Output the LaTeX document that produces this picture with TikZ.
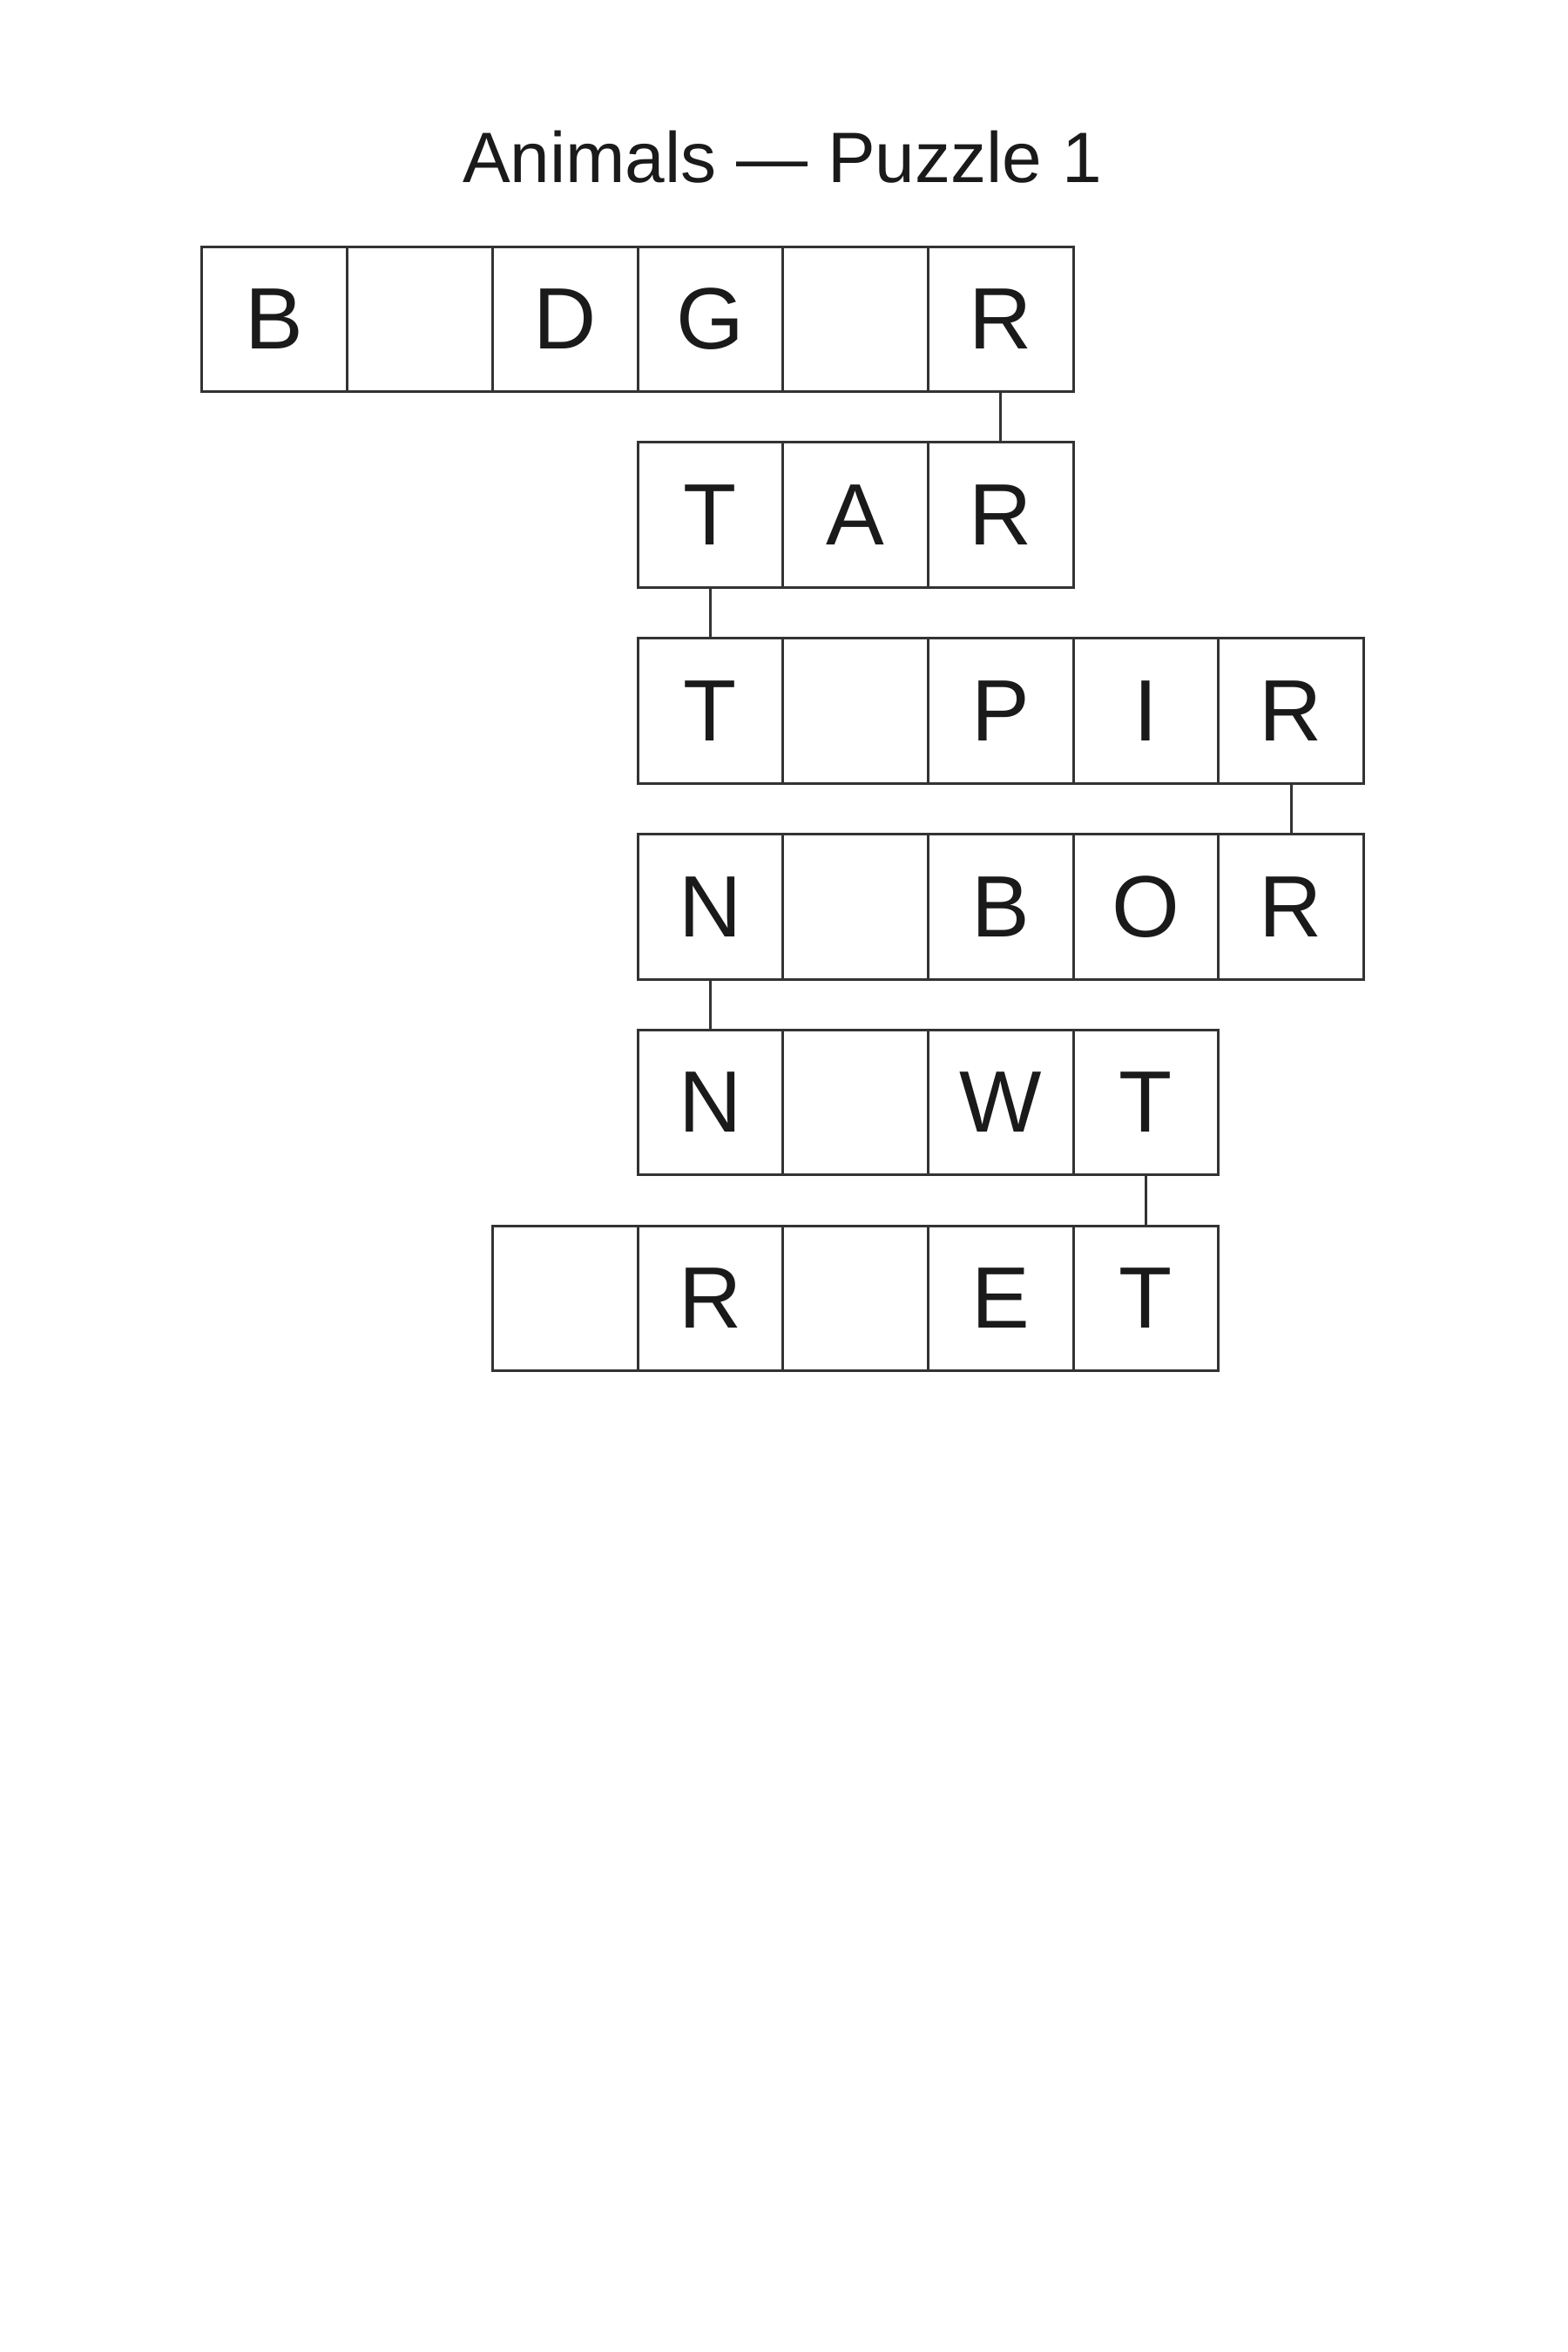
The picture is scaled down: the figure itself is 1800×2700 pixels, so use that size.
\documentclass[tikz,border=0pt]{standalone}
\usepackage{fontspec}
\setmainfont{Liberation Sans}
\definecolor{inkgray}{HTML}{1A1A1A}
\definecolor{linegray}{HTML}{333333}
\def\cellsize{166.67}
\def\stride{224.8}
\def\leftedge{232}
\def\topedge{283}
\tikzset{
  cellbox/.style={draw=linegray,line width=0.75pt,minimum size=41.67pt,inner sep=0pt,outer sep=0pt,text=inkgray,font=\fontsize{25}{25}\selectfont},
  link/.style={draw=linegray,line width=0.75pt},
  title/.style={text=inkgray,inner sep=0pt,font=\fontsize{20.5}{20.5}\selectfont}
}

\begin{document}
\begin{tikzpicture}[x=0.25pt,y=-0.25pt]
\fill[white] (0,0) rectangle (1800,2700);
\useasboundingbox (0,0) rectangle (1800,2700);
\node[title,anchor=base] (title) at (898,209) {Animals — Puzzle 1};
\foreach \r/\start/\letters in {0/0/{B, ,D,G, ,R},1/3/{T,A,R},2/3/{T, ,P,I,R},3/3/{N, ,B,O,R},4/3/{N, ,W,T},5/2/{ ,R, ,E,T}} {
  \foreach \l [count=\k from \start] in \letters {
    \node[cellbox] (r\r c\k) at (\leftedge+\k*\cellsize+0.5*\cellsize,\topedge+\r*\stride+0.5*\cellsize) {\l};
  }
}
\draw[link] (r0c5.south) -- (r1c5.north);
\draw[link] (r1c3.south) -- (r2c3.north);
\draw[link] (r2c7.south) -- (r3c7.north);
\draw[link] (r3c3.south) -- (r4c3.north);
\draw[link] (r4c6.south) -- (r5c6.north);
\end{tikzpicture}
\end{document}
